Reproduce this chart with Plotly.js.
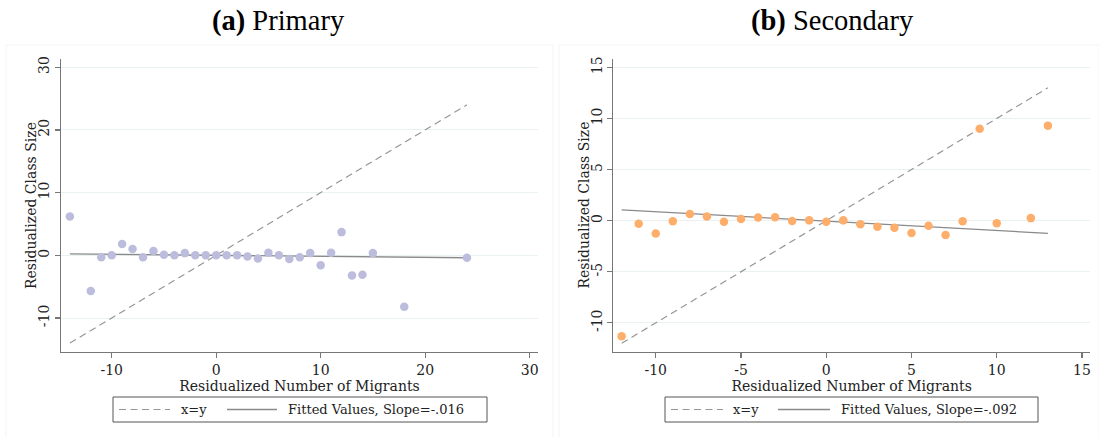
<!DOCTYPE html>
<html>
<head>
<meta charset="utf-8">
<script src="https://cdn.plot.ly/plotly-3.0.1.min.js"></script>
<style>
  html, body { margin: 0; padding: 0; background: #ffffff; }
  #chart { width: 1099px; height: 437px; }
</style>
</head>
<body>
<div id="chart"></div>
<script>
// Panel (a): primary schools, binned residuals
const primX = [-14, -12, -11, -10, -9, -8, -7, -6, -5, -4, -3, -2, -1, 0, 1, 2, 3, 4, 5, 6, 7, 8, 9, 10, 11, 12, 13, 14, 15, 18, 24];
const primY = [6.2, -5.7, -0.3, 0, 1.8, 1.0, -0.3, 0.7, 0.1, 0, 0.35, 0, 0, 0, 0, 0, -0.2, -0.5, 0.4, 0, -0.6, -0.3, 0.35, -1.6, 0.4, 3.7, -3.2, -3.1, 0.35, -8.2, -0.4];
const primFitX = [-14, 24];
const primFitY = [0.22, -0.39];
const primDiag = [-14, 24];

// Panel (b): secondary schools, binned residuals
const secX = [-12, -11, -10, -9, -8, -7, -6, -5, -4, -3, -2, -1, 0, 1, 2, 3, 4, 5, 6, 7, 8, 9, 10, 12, 13];
const secY = [-11.3, -0.3, -1.25, -0.05, 0.65, 0.4, -0.1, 0.17, 0.3, 0.33, -0.03, 0.03, -0.1, 0.03, -0.35, -0.6, -0.7, -1.2, -0.5, -1.4, -0.05, 9.0, -0.25, 0.25, 9.3];
const secFitX = [-12, 13];
const secFitY = [1.06, -1.24];
const secDiag = [-12, 13];

// Tick labels
const primXTicks = [-10, 0, 10, 20, 30];
const primYTicks = [-10, 0, 10, 20, 30];
const secXTicks = [-10, -5, 0, 5, 10, 15];
const secYTicks = [-10, -5, 0, 5, 10, 15];

// Text
const panelTitles = ['<b>(a)</b> Primary', '<b>(b)</b> Secondary'];
const xTitle = 'Residualized Number of Migrants';
const yTitle = 'Residualized Class Size';
const diagLabel = 'x=y';
const fitLabels = ['Fitted Values, Slope=-.016', 'Fitted Values, Slope=-.092'];

const W = 1099, H = 437;
const px = v => v / W;
const py = v => 1 - v / H;

const SERIF = 'DejaVu Serif, serif';
const TIMES = 'Liberation Serif, Times New Roman, serif';
const dashStyle = '7px,4.5px';
const diagColor = '#969696';
const fitColor = '#8a8a8a';

const traces = [
  { x: primDiag, y: primDiag, xaxis: 'x', yaxis: 'y', mode: 'lines', name: diagLabel,
    line: { color: diagColor, width: 1.2, dash: dashStyle }, hoverinfo: 'skip' },
  { x: primFitX, y: primFitY, xaxis: 'x', yaxis: 'y', mode: 'lines', name: fitLabels[0],
    line: { color: fitColor, width: 1.3 }, hoverinfo: 'skip' },
  { x: primX, y: primY, xaxis: 'x', yaxis: 'y', mode: 'markers', name: 'Primary',
    marker: { color: '#bcbddc', size: 8.5 } },
  { x: secDiag, y: secDiag, xaxis: 'x2', yaxis: 'y2', mode: 'lines', name: diagLabel,
    line: { color: diagColor, width: 1.2, dash: dashStyle }, hoverinfo: 'skip' },
  { x: secFitX, y: secFitY, xaxis: 'x2', yaxis: 'y2', mode: 'lines', name: fitLabels[1],
    line: { color: fitColor, width: 1.3 }, hoverinfo: 'skip' },
  { x: secX, y: secY, xaxis: 'x2', yaxis: 'y2', mode: 'markers', name: 'Secondary',
    marker: { color: '#fdae6b', size: 8.5 } }
];

const yDomain = [py(352), py(59)];

function xAxis(domain, range, ticks, anchor) {
  return {
    domain: domain, range: range, anchor: anchor,
    tickmode: 'array', tickvals: ticks, ticktext: ticks.map(String),
    showgrid: false, zeroline: false,
    showline: true, linecolor: '#777777', linewidth: 1.2,
    ticks: 'outside', ticklen: 5, tickcolor: '#777777', tickwidth: 1.2,
    tickfont: { family: SERIF, size: 14, color: '#222222' },
    title: { text: xTitle, font: { family: SERIF, size: 14, color: '#222222' }, standoff: 0 },
    automargin: false, fixedrange: true
  };
}
function yAxis(range, ticks, anchor) {
  return {
    domain: yDomain, range: range, anchor: anchor,
    tickmode: 'array', tickvals: ticks, ticktext: ticks.map(String),
    tickangle: -90,
    showgrid: true, gridcolor: '#eaf1f3', gridwidth: 1, zeroline: false,
    showline: true, linecolor: '#777777', linewidth: 1.2,
    ticks: 'outside', ticklen: 5, tickcolor: '#777777', tickwidth: 1.2,
    tickfont: { family: SERIF, size: 14, color: '#222222' },
    automargin: false, fixedrange: true
  };
}

// Legend boxes drawn per panel
const legends = [
  { box: [113, 487], dash: [119, 170], diagText: 179, solid: [227, 277], fitText: 286, label: fitLabels[0] },
  { box: [665, 1038], dash: [671, 723], diagText: 731, solid: [778, 830], fitText: 839, label: fitLabels[1] }
];
const legTop = 397, legBot = 422, legMid = 409.5;

const shapes = [];
const annotations = [];

// faint panel frames
[[6, 553], [559, 1099]].forEach(([l, r]) => {
  shapes.push({ type: 'path', xref: 'paper', yref: 'paper',
    path: `M${px(l)},${py(437)} L${px(l)},${py(45)} L${px(r)},${py(45)} L${px(r)},${py(437)}`,
    line: { color: '#f4f4f4', width: 1 } });
});

legends.forEach(L => {
  shapes.push({ type: 'rect', xref: 'paper', yref: 'paper',
    x0: px(L.box[0]), x1: px(L.box[1]), y0: py(legBot), y1: py(legTop),
    line: { color: '#555555', width: 1 }, fillcolor: 'rgba(0,0,0,0)' });
  shapes.push({ type: 'line', xref: 'paper', yref: 'paper',
    x0: px(L.dash[0]), x1: px(L.dash[1]), y0: py(legMid), y1: py(legMid),
    line: { color: diagColor, width: 1.2, dash: dashStyle } });
  shapes.push({ type: 'line', xref: 'paper', yref: 'paper',
    x0: px(L.solid[0]), x1: px(L.solid[1]), y0: py(legMid), y1: py(legMid),
    line: { color: fitColor, width: 1.3 } });
  annotations.push({ xref: 'paper', yref: 'paper', x: px(L.diagText), y: py(legMid),
    xanchor: 'left', yanchor: 'middle', showarrow: false, text: diagLabel,
    font: { family: SERIF, size: 13, color: '#222222' } });
  annotations.push({ xref: 'paper', yref: 'paper', x: px(L.fitText), y: py(legMid),
    xanchor: 'left', yanchor: 'middle', showarrow: false, text: L.label,
    font: { family: SERIF, size: 13, color: '#222222' } });
});

// y-axis titles
[30.5, 583].forEach(cx => {
  annotations.push({ xref: 'paper', yref: 'paper', x: px(cx), y: py(205.5),
    xanchor: 'center', yanchor: 'middle', showarrow: false, textangle: -90,
    text: yTitle, font: { family: SERIF, size: 14, color: '#222222' } });
});

// panel titles
[[278, panelTitles[0]], [832, panelTitles[1]]].forEach(([cx, t]) => {
  annotations.push({ xref: 'paper', yref: 'paper', x: px(cx), y: py(21),
    xanchor: 'center', yanchor: 'middle', showarrow: false, text: t,
    font: { family: TIMES, size: 28.5, color: '#000000' } });
});

const layout = {
  width: W, height: H,
  margin: { l: 0, r: 0, t: 0, b: 0 },
  paper_bgcolor: '#ffffff', plot_bgcolor: '#ffffff',
  showlegend: false,
  xaxis: xAxis([px(61), px(538)], [-14.85, 30.8], primXTicks, 'y'),
  yaxis: yAxis([-15.42, 31.31], primYTicks, 'x'),
  xaxis2: xAxis([px(613.3), px(1090)], [-12.49, 15.47], secXTicks, 'y2'),
  yaxis2: yAxis([-12.85, 15.82], secYTicks, 'x2'),
  shapes: shapes,
  annotations: annotations
};

Plotly.newPlot('chart', traces, layout, { displayModeBar: false, staticPlot: true });
</script>
</body>
</html>
